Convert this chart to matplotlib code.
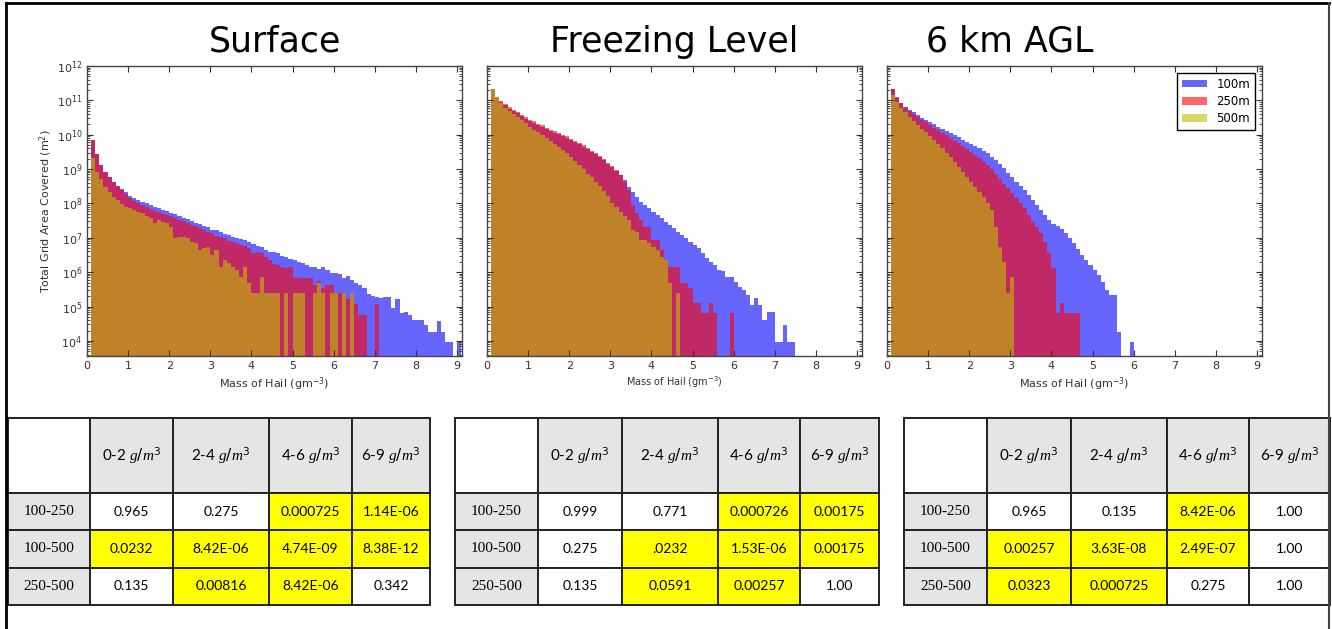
import numpy as np
import matplotlib.pyplot as plt
from matplotlib.lines import Line2D
from matplotlib.ticker import LogLocator, FixedLocator

plt.rcParams['font.family'] = 'DejaVu Sans'
plt.rcParams['mathtext.fontset'] = 'custom'
plt.rcParams['mathtext.rm'] = 'DejaVu Sans'
plt.rcParams['mathtext.it'] = 'Liberation Serif:italic'
plt.rcParams['mathtext.bf'] = 'DejaVu Sans:bold'

# histogram bins of hail mass (g m^-3): width 0.1, first edge 0.1
bin_edges = np.round(np.arange(0.1, 9.15, 0.1), 2)

# log10 of total grid area covered per bin (0 = empty bin)
surface_100 = [9.85, 9.43, 9.12, 8.92, 8.78, 8.63, 8.52, 8.43, 8.33, 8.22,
               8.16, 8.10, 8.05, 8.00, 7.96, 7.91, 7.86, 7.82, 7.77, 7.72,
               7.68, 7.63, 7.58, 7.54, 7.50, 7.44, 7.40, 7.35, 7.30, 7.24,
               7.22, 7.17, 7.12, 7.08, 7.02, 6.99, 6.97, 6.93, 6.88, 6.82,
               6.77, 6.74, 6.64, 6.60, 6.58, 6.55, 6.48, 6.44, 6.38, 6.35,
               6.30, 6.26, 6.20, 6.16, 6.16, 6.10, 6.16, 6.05, 5.98, 5.99,
               5.95, 5.82, 5.88, 5.78, 5.68, 5.62, 5.53, 5.35, 5.32, 5.29,
               5.24, 5.29, 5.29, 4.95, 5.21, 4.80, 4.85, 4.76, 4.61, 4.61,
               4.61, 4.45, 4.27, 4.27, 4.59, 4.27, 3.98, 3.98, 0, 3.98]
surface_250 = [9.84, 9.43, 9.12, 8.92, 8.78, 8.63, 8.52, 8.38, 8.28, 8.15,
               8.08, 8.02, 7.96, 7.90, 7.84, 7.78, 7.74, 7.70, 7.66, 7.62,
               7.57, 7.52, 7.48, 7.43, 7.38, 7.33, 7.28, 7.24, 7.18, 7.13,
               7.05, 7.02, 6.98, 6.92, 6.88, 6.85, 6.80, 6.75, 6.70, 6.55,
               6.60, 6.55, 6.45, 6.35, 6.25, 6.20, 6.16, 6.12, 6.16, 5.82,
               5.82, 5.82, 5.82, 5.82, 5.64, 5.75, 5.54, 5.64, 5.64, 5.39,
               5.39, 5.39, 5.21, 5.39, 5.06, 4.76, 4.76, 0, 0, 5.08]
surface_500 = [9.31, 8.92, 8.70, 8.49, 8.34, 8.20, 8.10, 7.98, 7.90, 7.86,
               7.81, 7.76, 7.71, 7.64, 7.57, 7.42, 7.52, 7.47, 7.42, 7.32,
               6.98, 7.03, 7.03, 6.98, 6.89, 6.84, 6.65, 6.69, 6.74, 6.50,
               6.65, 6.16, 6.35, 6.26, 6.16, 6.06, 5.87, 6.16, 5.68, 5.39,
               5.39, 5.87, 5.39, 5.39, 5.39, 5.39, 0, 5.39, 0, 5.39,
               5.39, 5.39, 0, 0, 5.39, 5.68, 5.39, 0, 5.39, 5.39,
               0, 5.39, 0, 5.39]

freezing_100 = [11.32, 11.10, 10.96, 10.86, 10.76, 10.70, 10.62, 10.54, 10.47, 10.40,
                10.35, 10.28, 10.23, 10.16, 10.10, 10.06, 10.01, 9.96, 9.91, 9.84,
                9.78, 9.73, 9.65, 9.58, 9.50, 9.44, 9.36, 9.26, 9.16, 9.07,
                8.95, 8.83, 8.68, 8.49, 8.34, 8.20, 8.05, 7.95, 7.86, 7.76,
                7.66, 7.57, 7.47, 7.37, 7.28, 7.18, 7.08, 6.98, 6.89, 6.79,
                6.69, 6.55, 6.40, 6.31, 6.21, 6.06, 6.02, 5.87, 5.87, 5.72,
                5.58, 5.48, 5.34, 5.05, 5.24, 5.05, 4.61, 4.85, 4.85, 3.98,
                3.98, 4.47, 3.98, 3.98]
freezing_250 = [11.32, 11.10, 10.98, 10.89, 10.80, 10.73, 10.66, 10.58, 10.51, 10.44,
                10.39, 10.32, 10.27, 10.20, 10.14, 10.10, 10.05, 10.00, 9.95, 9.88,
                9.82, 9.77, 9.69, 9.62, 9.54, 9.47, 9.39, 9.29, 9.18, 9.08,
                8.96, 8.83, 8.63, 8.39, 7.95, 7.71, 7.52, 7.32, 7.32, 6.94,
                6.94, 6.65, 6.35, 6.16, 6.16, 6.16, 5.68, 5.68, 5.53, 5.09,
                5.09, 4.80, 4.80, 5.09, 4.80, 0, 0, 0, 4.80]
freezing_500 = [11.32, 11.10, 10.91, 10.79, 10.70, 10.60, 10.52, 10.42, 10.33, 10.23,
                10.15, 10.08, 9.99, 9.91, 9.82, 9.74, 9.65, 9.56, 9.46, 9.34,
                9.23, 9.12, 9.00, 8.87, 8.76, 8.63, 8.51, 8.37, 8.23, 8.00,
                7.89, 7.76, 7.64, 7.52, 7.23, 7.18, 6.94, 6.94, 6.84, 6.74,
                6.65, 6.45, 6.35, 5.68, 0, 5.39]

agl6_100 = [11.32, 11.10, 10.93, 10.81, 10.73, 10.65, 10.57, 10.49, 10.42, 10.38,
            10.31, 10.23, 10.16, 10.10, 10.05, 9.99, 9.92, 9.86, 9.79, 9.73,
            9.67, 9.60, 9.53, 9.46, 9.36, 9.26, 9.15, 9.02, 8.89, 8.78,
            8.63, 8.51, 8.39, 8.24, 8.10, 7.95, 7.81, 7.66, 7.52, 7.40,
            7.34, 7.25, 7.13, 6.98, 6.84, 6.66, 6.50, 6.35, 6.21, 6.06,
            5.92, 5.72, 5.48, 5.34, 5.34, 4.27, 0, 0, 3.98]
agl6_250 = [11.32, 11.08, 10.91, 10.79, 10.70, 10.60, 10.52, 10.44, 10.37, 10.29,
            10.21, 10.13, 10.06, 9.98, 9.90, 9.82, 9.75, 9.67, 9.59, 9.51,
            9.42, 9.32, 9.21, 9.11, 8.99, 8.85, 8.72, 8.58, 8.44, 8.29,
            8.15, 8.00, 7.86, 7.66, 7.47, 7.32, 7.13, 6.89, 6.55, 6.11,
            4.80, 5.09, 4.80, 4.80, 4.80, 4.80]
agl6_500 = [11.15, 10.96, 10.79, 10.65, 10.52, 10.40, 10.29, 10.17, 10.07, 9.96,
            9.84, 9.73, 9.60, 9.47, 9.34, 9.20, 9.07, 8.92, 8.78, 8.63,
            8.49, 8.34, 8.18, 8.00, 7.81, 7.32, 6.74, 6.31, 5.39, 5.87]

panel_titles = ['Surface', 'Freezing Level', '6 km AGL']
series_labels = ['100m', '250m', '500m']
series_colors = ['b', 'r', 'y']
panel_data = [[surface_100, surface_250, surface_500],
              [freezing_100, freezing_250, freezing_500],
              [agl6_100, agl6_250, agl6_500]]

# p-values of the resolution comparisons
col_labels = ['0-2 $g/m^3$', '2-4 $g/m^3$', '4-6 $g/m^3$', '6-9 $g/m^3$']
row_labels = ['100-250', '100-500', '250-500']
surface_p = [['0.965', '0.275', '0.000725', '1.14E-06'],
             ['0.0232', '8.42E-06', '4.74E-09', '8.38E-12'],
             ['0.135', '0.00816', '8.42E-06', '0.342']]
freezing_p = [['0.999', '0.771', '0.000726', '0.00175'],
              ['0.275', '.0232', '1.53E-06', '0.00175'],
              ['0.135', '0.0591', '0.00257', '1.00']]
agl6_p = [['0.965', '0.135', '8.42E-06', '1.00'],
          ['0.00257', '3.63E-08', '2.49E-07', '1.00'],
          ['0.0323', '0.000725', '0.275', '1.00']]
tables = [surface_p, freezing_p, agl6_p]


def to_area(logs):
    a = np.zeros(len(bin_edges) - 1)
    a[:len(logs)] = logs
    return np.where(a > 0, 10.0 ** a, 1.0)


W, H = 1332, 629
fig = plt.figure(figsize=(W / 100, H / 100), dpi=100, facecolor='white')

ax_left = [87, 487, 887]
title_x = [274.5, 674, 1009.5]
for i in range(3):
    ax = fig.add_axes([ax_left[i] / W, 1 - 356 / H, 375 / W, 290 / H])
    for vals, lab, col in zip(panel_data[i], series_labels, series_colors):
        ax.stairs(to_area(vals), bin_edges, baseline=1.0, fill=True,
                  color=col, alpha=0.6, label=lab, lw=0)
    ax.set_yscale('log')
    ax.set_xlim(0, 9.12)
    ax.set_ylim(10 ** 3.56, 1e12)
    ax.set_xticks(range(10))
    ax.yaxis.set_major_locator(FixedLocator([10.0 ** k for k in range(4, 13)]))
    ax.yaxis.set_minor_locator(LogLocator(subs=np.arange(2, 10), numticks=20))
    ax.tick_params(which='both', direction='in', top=True, right=True,
                   labelsize=8, colors='#333333')
    ax.tick_params(which='major', length=4)
    ax.tick_params(which='minor', length=2)
    for sp in ax.spines.values():
        sp.set_color('#444444')
        sp.set_linewidth(1.0)
    ax.set_xlabel('Mass of Hail (gm$^{-3}$)', fontsize=8 if i != 1 else 7,
                  color='#333333', labelpad=3)
    if i == 0:
        ax.set_ylabel('Total Grid Area Covered (m$^2$)', fontsize=8,
                      color='#333333', labelpad=2)
    else:
        ax.tick_params(axis='y', which='both', labelleft=False)
    if i == 2:
        ax.legend(loc='upper right', fontsize=8.5, fancybox=False,
                  edgecolor='black', framealpha=1, borderaxespad=0.6,
                  handlelength=2.1, handleheight=0.6, borderpad=0.4,
                  labelspacing=0.35)
    fig.text(title_x[i] / W, 1 - 52 / H, panel_titles[i], ha='center',
             va='baseline', fontsize=25)

# p-value tables
tab_left = [8, 455, 904]
tab_right = [430, 879, 1330]
col_px = [[82, 83, 96, 83, 78], [83, 84, 96, 82, 79], [83, 84, 96, 82, 81]]
for i in range(3):
    tx = fig.add_axes([tab_left[i] / W, 1 - 605 / H,
                       (tab_right[i] - tab_left[i]) / W, 187 / H])
    tx.axis('off')
    text = [[''] + col_labels] + [[r] + row for r, row in zip(row_labels, tables[i])]
    colours = [['white'] + ['#e5e5e5'] * 4]
    for row in tables[i]:
        colours.append(['#e5e5e5'] + ['#ffff00' if float(v) < 0.1 else 'white' for v in row])
    widths = np.array(col_px[i]) / sum(col_px[i])
    tb = tx.table(cellText=text, cellColours=colours, colWidths=widths,
                  cellLoc='center', bbox=[0, 0, 1, 1])
    tb.auto_set_font_size(False)
    for (r, c), cell in tb.get_celld().items():
        cell.set_height(75 if r == 0 else 37.5)
        cell.set_edgecolor('#222222')
        cell.set_linewidth(1.4)
        t = cell.get_text()
        if c == 0:
            t.set_fontfamily('Liberation Serif')
            t.set_fontsize(11)
        elif r == 0:
            t.set_fontfamily('Lato')
            t.set_fontsize(11)
        else:
            t.set_fontfamily('Lato')
            t.set_fontsize(10)

# outer frame of the figure
fig.add_artist(Line2D([6 / W, 6 / W], [0, 1 - 3 / H], transform=fig.transFigure, color='black', lw=2))
fig.add_artist(Line2D([6 / W, 1329 / W], [1 - 3 / H, 1 - 3 / H], transform=fig.transFigure, color='black', lw=2))
fig.add_artist(Line2D([1329 / W, 1329 / W], [0, 1 - 3 / H], transform=fig.transFigure, color='#444444', lw=1.5))

fig.savefig('out.png', dpi=100, facecolor='white')
